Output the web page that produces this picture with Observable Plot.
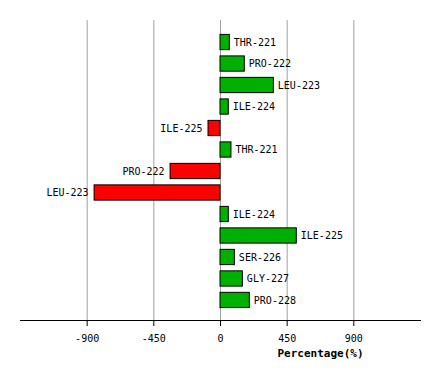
<!DOCTYPE html>
<html>
<head>
<meta charset="utf-8">
<script src="https://cdn.jsdelivr.net/npm/d3@7"></script>
<script src="https://cdn.jsdelivr.net/npm/@observablehq/plot@0.6"></script>
<style>
  html, body { margin: 0; padding: 0; background: #fff; }
</style>
</head>
<body>
<div id="chart"></div>
<script>
const residues = ["THR-221", "PRO-222", "LEU-223", "ILE-224", "ILE-225", "THR-221", "PRO-222", "LEU-223", "ILE-224", "ILE-225", "SER-226", "GLY-227", "PRO-228"];
const percentages = [63, 164, 360, 56, -81, 74, -337, -850, 56, 515, 97, 151, 198];
const xTicks = [-900, -450, 0, 450, 900];
const axisTitle = "Percentage(%)";

const data = residues.map((r, i) => ({i, label: r, value: percentages[i]}));
const pos = data.filter(d => d.value >= 0);
const neg = data.filter(d => d.value < 0);

const chart = Plot.plot({
  width: 440,
  height: 380,
  marginLeft: 20,
  marginRight: 20,
  marginTop: 20,
  marginBottom: 60,
  style: {fontFamily: "'DejaVu Sans Mono', monospace", fontSize: "10px", color: "black", background: "white"},
  x: {domain: [-1350, 1350], axis: null},
  y: {domain: d3.range(residues.length), range: [34.4, 307.6], paddingInner: 0.29, paddingOuter: 0, round: false, axis: null},
  color: {type: "identity"},
  marks: [
    Plot.gridX(xTicks, {stroke: "#a0a0a0", strokeOpacity: 1, strokeWidth: 1}),
    Plot.barX(data, {x: "value", y: "i", fill: d => d.value < 0 ? "#ff0000" : "#00b000", stroke: "black", strokeWidth: 1}),
    Plot.text(pos, {x: "value", y: "i", text: "label", textAnchor: "start", dx: 4, fill: "black"}),
    Plot.text(neg, {x: "value", y: "i", text: "label", textAnchor: "end", dx: -6, fill: "black"}),
    Plot.frame({anchor: "bottom", stroke: "black"}),
    Plot.axisX({ticks: xTicks, tickSize: 6, tickPadding: 8, tickFormat: d => String(d), label: null}),
    Plot.text([axisTitle], {frameAnchor: "bottom", dx: 100, dy: 36, fontWeight: "bold", fontSize: 11, fill: "black"})
  ]
});
document.getElementById("chart").appendChild(chart);
</script>
</body>
</html>
